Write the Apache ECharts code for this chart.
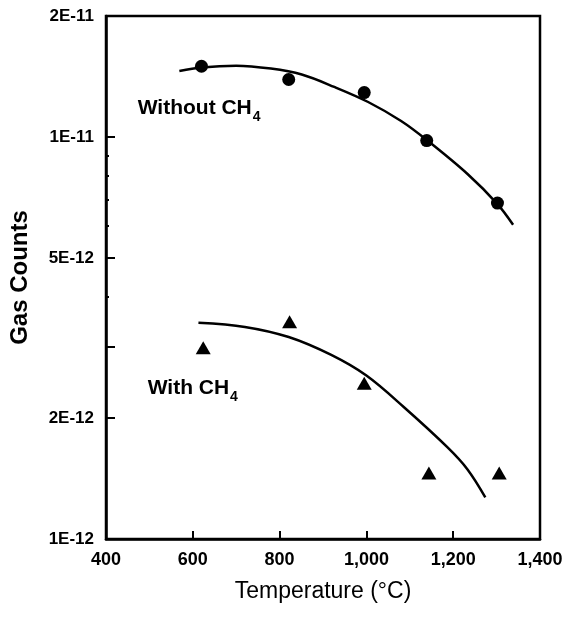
<!DOCTYPE html>
<html><head><meta charset="utf-8">
<script src="https://cdn.jsdelivr.net/npm/echarts@6/dist/echarts.min.js"></script>
<style>html,body{margin:0;padding:0;background:#fff}#c{width:568px;height:617px}</style>
</head><body><div id="c"></div>
<script>
// Measured data (Temperature °C, Gas Counts)
const tempWithout = [620, 821, 995, 1139, 1302];
const countsWithout = [15.0e-12, 13.9e-12, 12.9e-12, 9.8e-12, 6.85e-12];
const tempWith = [624, 823, 995, 1144, 1306];
const countsWith = [2.99e-12, 3.47e-12, 2.44e-12, 1.46e-12, 1.46e-12];
// Fitted curves
const fitWithoutT = [569, 620, 700, 780, 851, 926, 1004, 1080, 1139, 1233, 1302, 1338];
const fitWithoutC = [14.6e-12, 14.9e-12, 15.05e-12, 14.8e-12, 14.3e-12, 13.32e-12, 12.22e-12, 10.96e-12, 9.83e-12, 8.09e-12, 6.81e-12, 6.05e-12];
const fitWithT = [613, 720, 821, 919, 1000, 1086, 1187, 1233, 1274];
const fitWithC = [3.45e-12, 3.37e-12, 3.18e-12, 2.87e-12, 2.55e-12, 2.13e-12, 1.69e-12, 1.49e-12, 1.27e-12];
// Axis ticks
const xTicks = [400, 600, 800, 1000, 1200, 1400];
const xTickLabels = ['400', '600', '800', '1,000', '1,200', '1,400'];
const yLabelValues = [1e-12, 2e-12, 5e-12, 1e-11, 2e-11];
const yLabelTexts = ['1E-12', '2E-12', '5E-12', '1E-11', '2E-11'];
const yMajorTicks = [1e-12, 2e-12, 3e-12, 5e-12, 1e-11, 2e-11];
const yMinorTicks = [4e-12, 6e-12, 7e-12, 8e-12, 9e-12];
// Annotation texts and their anchors (data units)
const seriesNames = ['Without CH', 'With CH'];
const subscripts = ['4', '4'];
const labelAnchorT = [473, 496];
const labelAnchorC = [11.8e-12, 2.375e-12];

const FF = '"Liberation Sans", Arial, Helvetica, sans-serif';
const zip = (a, b) => a.map((v, i) => [v, b[i]]);
const findLabel = (vals, texts, v) => {
  for (let i = 0; i < vals.length; i++) if (Math.abs(v / vals[i] - 1) < 1e-6) return texts[i];
  return '';
};

const chart = echarts.init(document.getElementById('c'), null, {renderer: 'canvas'});
const axisLineStyle = {color: '#000', width: 2.5};
chart.setOption({
  animation: false,
  backgroundColor: '#fff',
  grid: {left: 103, right: 28, top: 16, bottom: 78, show: true, borderColor: '#000', borderWidth: 2.5, containLabel: false},
  xAxis: {
    type: 'value', min: 400, max: 1400, interval: 200,
    name: 'Temperature (\u00B0C)', nameLocation: 'middle', nameGap: 41,
    nameTextStyle: {fontFamily: FF, fontSize: 23, color: '#000'},
    axisLine: {show: true, lineStyle: axisLineStyle},
    axisTick: {show: true, inside: true, length: 8, lineStyle: {color: '#000', width: 2}, customValues: xTicks.slice(1, -1)},
    axisLabel: {fontFamily: FF, fontSize: 18, fontWeight: 'bold', color: '#000', margin: 12,
      customValues: xTicks, formatter: v => findLabel(xTicks, xTickLabels, v)},
    splitLine: {show: false}
  },
  yAxis: [{
    type: 'log', logBase: 10, min: 1e-12, max: 2e-11,
    name: 'Gas Counts', nameLocation: 'middle', nameGap: 74, nameRotate: 90,
    nameTextStyle: {fontFamily: FF, fontSize: 24, fontWeight: 'bold', color: '#000'},
    axisLine: {show: true, lineStyle: axisLineStyle},
    axisTick: {show: true, inside: true, length: 9, lineStyle: {color: '#000', width: 2}, customValues: yMajorTicks},
    axisLabel: {fontFamily: FF, fontSize: 17, fontWeight: 'bold', color: '#000', margin: 12,
      customValues: yLabelValues, formatter: v => findLabel(yLabelValues, yLabelTexts, v)},
    splitLine: {show: false}
  }, {
    type: 'log', logBase: 10, min: 1e-12, max: 2e-11, position: 'left',
    axisLine: {show: false},
    axisTick: {show: true, inside: true, length: 3, lineStyle: {color: '#000', width: 2}, customValues: yMinorTicks},
    axisLabel: {show: false},
    splitLine: {show: false}
  }],
  series: [
    {type: 'line', data: zip(fitWithoutT, fitWithoutC), smooth: 0.35, showSymbol: false, silent: true,
     lineStyle: {color: '#000', width: 2.5}},
    {type: 'line', data: zip(fitWithT, fitWithC), smooth: 0.35, showSymbol: false, silent: true,
     lineStyle: {color: '#000', width: 2.5}},
    {type: 'scatter', data: zip(tempWithout, countsWithout), symbol: 'circle', symbolSize: 13,
     itemStyle: {color: '#000', opacity: 1}},
    {type: 'scatter', data: zip(tempWith, countsWith), symbol: 'triangle', symbolSize: [15, 13],
     itemStyle: {color: '#000', opacity: 1}}
  ]
});

const mctx = document.createElement('canvas').getContext('2d');
const mainFont = 'bold 21px ' + FF;
mctx.font = mainFont;
const graphics = [];
seriesNames.forEach((nm, i) => {
  const p = chart.convertToPixel({xAxisIndex: 0, yAxisIndex: 0}, [labelAnchorT[i], labelAnchorC[i]]);
  const w = mctx.measureText(nm).width;
  graphics.push({
    type: 'text', x: p[0], y: p[1], z: 10,
    style: {text: nm, font: mainFont, align: 'left', verticalAlign: 'middle', fill: '#000'}
  });
  graphics.push({
    type: 'text', x: p[0] + w + 1, y: p[1] + 9, z: 10,
    style: {text: subscripts[i], font: 'bold 14px ' + FF, align: 'left', verticalAlign: 'middle', fill: '#000'}
  });
});
chart.setOption({graphic: graphics});
</script>
</body></html>
